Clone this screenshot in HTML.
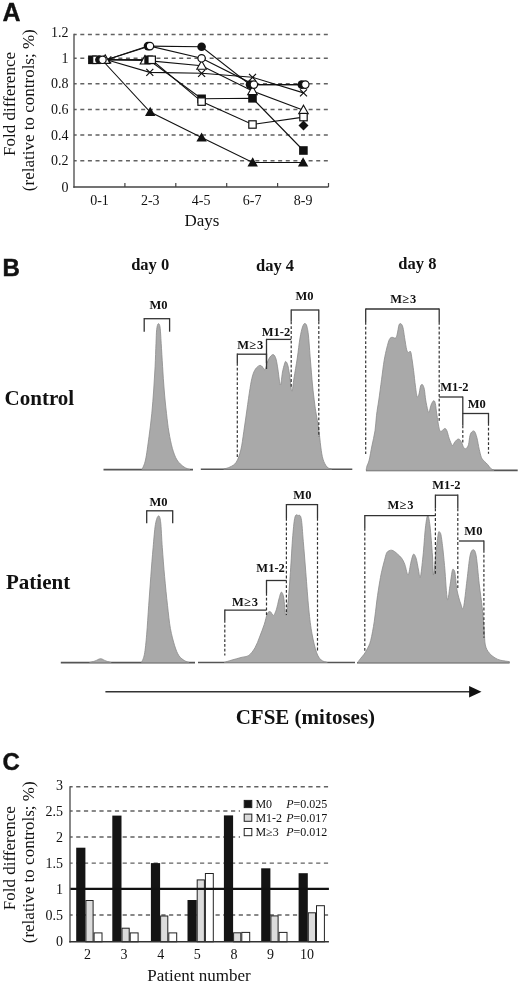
<!DOCTYPE html>
<html><head><meta charset="utf-8"><style>
html,body{margin:0;padding:0;background:#fff;}
body{width:520px;height:985px;overflow:hidden;}
svg{display:block;will-change:transform;}
</style></head><body>
<svg width="520" height="985" viewBox="0 0 520 985">
<rect width="520" height="985" fill="#fff"/>
<text x="2.5" y="21" font-family='"Liberation Sans", sans-serif' font-size="25" font-weight="bold" text-anchor="start" fill="#111" stroke="#111" stroke-width="0.3">A</text>
<text x="2.4" y="276.4" font-family='"Liberation Sans", sans-serif' font-size="24" font-weight="bold" text-anchor="start" fill="#111" stroke="#111" stroke-width="0.5">B</text>
<text x="2.4" y="770" font-family='"Liberation Sans", sans-serif' font-size="24" font-weight="bold" text-anchor="start" fill="#111" stroke="#111" stroke-width="0.4">C</text>
<line x1="74" y1="34.4" x2="328.5" y2="34.4" stroke="#626262" stroke-width="1.45" stroke-dasharray="4,3.61" stroke-dashoffset="1.31"/>
<line x1="74" y1="58.2" x2="328.5" y2="58.2" stroke="#626262" stroke-width="1.45" stroke-dasharray="4,3.61" stroke-dashoffset="1.31"/>
<line x1="74" y1="83.8" x2="328.5" y2="83.8" stroke="#626262" stroke-width="1.45" stroke-dasharray="4,3.61" stroke-dashoffset="1.31"/>
<line x1="74" y1="109.4" x2="328.5" y2="109.4" stroke="#626262" stroke-width="1.45" stroke-dasharray="4,3.61" stroke-dashoffset="1.31"/>
<line x1="74" y1="135.0" x2="328.5" y2="135.0" stroke="#626262" stroke-width="1.45" stroke-dasharray="4,3.61" stroke-dashoffset="1.31"/>
<line x1="74" y1="160.7" x2="328.5" y2="160.7" stroke="#626262" stroke-width="1.45" stroke-dasharray="4,3.61" stroke-dashoffset="1.31"/>
<line x1="74" y1="33.8" x2="74" y2="187.7" stroke="#555" stroke-width="1.4"/>
<line x1="73.3" y1="187.0" x2="328.5" y2="187.0" stroke="#444" stroke-width="1.4"/>
<line x1="124.9" y1="187.0" x2="124.9" y2="183.0" stroke="#444" stroke-width="1.2"/>
<line x1="175.8" y1="187.0" x2="175.8" y2="183.0" stroke="#444" stroke-width="1.2"/>
<line x1="226.7" y1="187.0" x2="226.7" y2="183.0" stroke="#444" stroke-width="1.2"/>
<line x1="277.6" y1="187.0" x2="277.6" y2="183.0" stroke="#444" stroke-width="1.2"/>
<line x1="328.5" y1="187.0" x2="328.5" y2="183.0" stroke="#444" stroke-width="1.2"/>
<text x="68.5" y="36.7" font-family='"Liberation Serif", serif' font-size="14" font-weight="normal" text-anchor="end" fill="#111" >1.2</text>
<text x="68.5" y="62.8" font-family='"Liberation Serif", serif' font-size="14" font-weight="normal" text-anchor="end" fill="#111" >1</text>
<text x="68.5" y="88.4" font-family='"Liberation Serif", serif' font-size="14" font-weight="normal" text-anchor="end" fill="#111" >0.8</text>
<text x="68.5" y="114.0" font-family='"Liberation Serif", serif' font-size="14" font-weight="normal" text-anchor="end" fill="#111" >0.6</text>
<text x="68.5" y="139.6" font-family='"Liberation Serif", serif' font-size="14" font-weight="normal" text-anchor="end" fill="#111" >0.4</text>
<text x="68.5" y="165.3" font-family='"Liberation Serif", serif' font-size="14" font-weight="normal" text-anchor="end" fill="#111" >0.2</text>
<text x="68.5" y="191.6" font-family='"Liberation Serif", serif' font-size="14" font-weight="normal" text-anchor="end" fill="#111" >0</text>
<text x="99.5" y="205" font-family='"Liberation Serif", serif' font-size="14" font-weight="normal" text-anchor="middle" fill="#111" >0-1</text>
<text x="150.3" y="205" font-family='"Liberation Serif", serif' font-size="14" font-weight="normal" text-anchor="middle" fill="#111" >2-3</text>
<text x="201.2" y="205" font-family='"Liberation Serif", serif' font-size="14" font-weight="normal" text-anchor="middle" fill="#111" >4-5</text>
<text x="252.2" y="205" font-family='"Liberation Serif", serif' font-size="14" font-weight="normal" text-anchor="middle" fill="#111" >6-7</text>
<text x="303.1" y="205" font-family='"Liberation Serif", serif' font-size="14" font-weight="normal" text-anchor="middle" fill="#111" >8-9</text>
<text x="202" y="226.3" font-family='"Liberation Serif", serif' font-size="17" font-weight="normal" text-anchor="middle" fill="#111" >Days</text>
<text transform="translate(15,104) rotate(-90)" font-family='"Liberation Serif", serif' font-size="17" text-anchor="middle" fill="#111">Fold difference</text>
<text transform="translate(34,110.2) rotate(-90)" font-family='"Liberation Serif", serif' font-size="17" text-anchor="middle" fill="#111">(relative to controls; %)</text>
<path d="M106.5,59.8 L148.0,46.1 L201.6,46.8 L250.0,84.6 L301.8,84.6" fill="none" stroke="#111" stroke-width="1.1"/>
<path d="M106.5,59.8 L150.0,46.1 L201.6,58.3 L253.9,84.6 L305.3,84.6" fill="none" stroke="#111" stroke-width="1.1"/>
<path d="M106.5,59.8 L145.0,60.4 L201.6,65.7 L252.5,91.1 L303.5,110.2" fill="none" stroke="#111" stroke-width="1.1"/>
<path d="M106.5,59.8 L149.8,72.4 L201.6,73.3 L252.5,77.3 L303.5,92.9" fill="none" stroke="#111" stroke-width="1.1"/>
<path d="M106.5,59.8 L148.6,59.8 L201.6,98.8 L252.5,98.3 L303.4,150.5" fill="none" stroke="#111" stroke-width="1.1"/>
<path d="M106.5,59.8 L151.7,59.8 L201.6,101.6 L252.5,124.5 L303.5,117.1" fill="none" stroke="#111" stroke-width="1.1"/>
<path d="M103.0,61.0 L150.2,112.0 L201.6,137.6 L252.7,162.5 L303.1,162.5" fill="none" stroke="#111" stroke-width="1.1"/>
<path d="M104,54.8 L109.2,64.0 L98.8,64.0 Z" fill="#111"/>
<path d="M150.2,106.8 L155.39999999999998,116 L145.0,116 Z" fill="#111"/>
<path d="M201.6,132.4 L206.79999999999998,141.6 L196.4,141.6 Z" fill="#111"/>
<path d="M252.7,157.3 L257.9,166.5 L247.5,166.5 Z" fill="#111"/>
<path d="M303.1,157.3 L308.3,166.5 L297.90000000000003,166.5 Z" fill="#111"/>
<path d="M104.3,56.3 L111.3,63.3 M111.3,56.3 L104.3,63.3" stroke="#111" stroke-width="1.2"/>
<path d="M146.3,68.9 L153.3,75.9 M153.3,68.9 L146.3,75.9" stroke="#111" stroke-width="1.2"/>
<path d="M198.1,69.8 L205.1,76.8 M205.1,69.8 L198.1,76.8" stroke="#111" stroke-width="1.2"/>
<path d="M249.0,73.8 L256.0,80.8 M256.0,73.8 L249.0,80.8" stroke="#111" stroke-width="1.2"/>
<path d="M300.0,89.4 L307.0,96.4 M307.0,89.4 L300.0,96.4" stroke="#111" stroke-width="1.2"/>
<path d="M105.2,54.8 L110.0,63.4 L100.4,63.4 Z" fill="#fff" stroke="#111" stroke-width="1.1"/>
<path d="M145,55.4 L149.8,64.0 L140.2,64.0 Z" fill="#fff" stroke="#111" stroke-width="1.1"/>
<path d="M201.6,60.7 L206.4,69.3 L196.79999999999998,69.3 Z" fill="#fff" stroke="#111" stroke-width="1.1"/>
<path d="M252.5,86.1 L257.3,94.69999999999999 L247.7,94.69999999999999 Z" fill="#fff" stroke="#111" stroke-width="1.1"/>
<path d="M303.5,105.2 L308.3,113.8 L298.7,113.8 Z" fill="#fff" stroke="#111" stroke-width="1.1"/>
<rect x="88.10000000000001" y="55.5" width="8.6" height="8.6" fill="#111"/>
<rect x="144.29999999999998" y="55.5" width="8.6" height="8.6" fill="#111"/>
<rect x="197.29999999999998" y="94.5" width="8.6" height="8.6" fill="#111"/>
<rect x="248.2" y="94.0" width="8.6" height="8.6" fill="#111"/>
<rect x="299.09999999999997" y="146.2" width="8.6" height="8.6" fill="#111"/>
<rect x="92.7" y="56.1" width="7.3999999999999995" height="7.3999999999999995" fill="#fff" stroke="#111" stroke-width="1.2"/>
<rect x="147.99999999999997" y="56.1" width="7.3999999999999995" height="7.3999999999999995" fill="#fff" stroke="#111" stroke-width="1.2"/>
<rect x="197.89999999999998" y="97.89999999999999" width="7.3999999999999995" height="7.3999999999999995" fill="#fff" stroke="#111" stroke-width="1.2"/>
<rect x="248.79999999999998" y="120.8" width="7.3999999999999995" height="7.3999999999999995" fill="#fff" stroke="#111" stroke-width="1.2"/>
<rect x="299.8" y="113.39999999999999" width="7.3999999999999995" height="7.3999999999999995" fill="#fff" stroke="#111" stroke-width="1.2"/>
<circle cx="99.4" cy="59.8" r="4.3" fill="#111"/>
<circle cx="148" cy="46.1" r="4.3" fill="#111"/>
<circle cx="201.6" cy="46.8" r="4.3" fill="#111"/>
<circle cx="250" cy="84.6" r="4.3" fill="#111"/>
<circle cx="301.8" cy="84.6" r="4.3" fill="#111"/>
<circle cx="102.5" cy="59.8" r="3.6999999999999997" fill="#fff" stroke="#111" stroke-width="1.2"/>
<circle cx="150" cy="46.1" r="3.6999999999999997" fill="#fff" stroke="#111" stroke-width="1.2"/>
<circle cx="201.6" cy="58.3" r="3.6999999999999997" fill="#fff" stroke="#111" stroke-width="1.2"/>
<circle cx="253.9" cy="84.6" r="3.6999999999999997" fill="#fff" stroke="#111" stroke-width="1.2"/>
<circle cx="305.3" cy="84.6" r="3.6999999999999997" fill="#fff" stroke="#111" stroke-width="1.2"/>
<path d="M303.5,120.4 L308.5,125.4 L303.5,130.4 L298.5,125.4 Z" fill="#111"/>
<text x="150.2" y="269.7" font-family='"Liberation Serif", serif' font-size="16.5" font-weight="bold" text-anchor="middle" fill="#111" >day 0</text>
<text x="275" y="270.5" font-family='"Liberation Serif", serif' font-size="16.5" font-weight="bold" text-anchor="middle" fill="#111" >day 4</text>
<text x="417.4" y="268.8" font-family='"Liberation Serif", serif' font-size="16.5" font-weight="bold" text-anchor="middle" fill="#111" >day 8</text>
<text x="4.6" y="405.4" font-family='"Liberation Serif", serif' font-size="21" font-weight="bold" text-anchor="start" fill="#111" >Control</text>
<text x="6" y="588.5" font-family='"Liberation Serif", serif' font-size="21" font-weight="bold" text-anchor="start" fill="#111" >Patient</text>
<line x1="103.5" y1="469.6" x2="193" y2="469.6" stroke="#555" stroke-width="1.6"/>
<path d="M142.0,469.5 C142.6,467.9 144.3,465.4 145.5,460.0 C146.7,454.6 147.9,444.6 149.0,436.8 C150.1,429.0 151.0,421.2 151.8,413.4 C152.6,405.6 153.1,397.8 153.7,390.0 C154.2,382.2 154.7,374.5 155.1,366.7 C155.5,358.9 155.7,349.6 156.0,343.4 C156.3,337.2 156.3,332.7 156.7,329.4 C157.1,326.1 157.6,324.2 158.2,323.8 C158.8,323.4 159.5,323.7 160.0,327.0 C160.5,330.3 160.8,336.8 161.2,343.4 C161.6,350.0 162.1,358.9 162.6,366.7 C163.1,374.5 163.5,382.2 164.2,390.0 C164.8,397.8 165.7,406.4 166.5,413.4 C167.3,420.4 167.9,426.1 168.9,432.0 C169.9,437.9 171.1,443.8 172.4,448.5 C173.8,453.2 175.1,456.9 177.0,460.0 C178.9,463.1 181.8,465.4 184.0,467.0 C186.2,468.6 189.0,469.1 190.0,469.5 L190.0,469.6 L142.0,469.6 Z" fill="#a9a9a9" stroke="#8a8a8a" stroke-width="0.8"/>
<line x1="144.2" y1="318.7" x2="169.6" y2="318.7" stroke="#333" stroke-width="1.3"/>
<line x1="144.2" y1="318.09999999999997" x2="144.2" y2="331.7" stroke="#333" stroke-width="1.3"/>
<line x1="169.6" y1="318.09999999999997" x2="169.6" y2="331.7" stroke="#333" stroke-width="1.3"/>
<text x="158.5" y="308.5" font-family='"Liberation Serif", serif' font-size="12.5" font-weight="bold" text-anchor="middle" fill="#111" >M0</text>
<line x1="200.8" y1="469.2" x2="352.3" y2="469.2" stroke="#555" stroke-width="1.6"/>
<path d="M223.8,469.0 C224.8,468.7 227.9,468.1 230.0,467.0 C232.1,465.9 234.4,465.1 236.2,462.3 C238.0,459.5 239.5,455.1 240.8,450.0 C242.1,444.9 242.8,438.2 243.8,431.5 C244.8,424.8 245.9,417.2 246.9,410.0 C247.9,402.8 249.1,394.2 250.0,388.5 C250.9,382.8 251.6,379.2 252.5,376.0 C253.4,372.8 254.3,370.8 255.5,369.0 C256.7,367.2 258.6,365.6 259.8,365.4 C261.1,365.1 262.1,366.8 263.0,367.5 C263.9,368.2 264.4,370.5 265.2,369.6 C265.9,368.7 266.7,364.1 267.5,362.0 C268.3,359.9 269.0,358.2 270.0,357.0 C271.0,355.8 272.3,354.3 273.3,354.6 C274.3,354.9 275.2,356.4 276.0,359.0 C276.8,361.6 277.3,365.7 278.0,370.0 C278.7,374.3 279.6,384.7 280.4,385.0 C281.1,385.3 281.8,375.5 282.5,372.0 C283.2,368.5 283.9,365.8 284.5,364.0 C285.1,362.2 285.2,361.2 285.8,361.5 C286.4,361.8 287.3,363.2 288.0,366.0 C288.7,368.8 289.4,373.8 290.0,378.0 C290.6,382.2 291.2,391.2 291.9,391.2 C292.6,391.2 293.1,383.5 294.0,378.0 C294.9,372.5 296.3,364.7 297.3,358.0 C298.3,351.3 299.1,343.2 300.0,338.0 C300.9,332.8 301.7,329.4 302.5,327.0 C303.3,324.6 303.9,323.7 304.6,323.5 C305.3,323.3 306.2,323.9 306.8,326.0 C307.4,328.1 307.9,330.3 308.5,336.0 C309.1,341.7 309.7,351.8 310.4,360.0 C311.1,368.2 311.8,377.8 312.5,385.0 C313.2,392.2 314.0,398.2 314.6,403.0 C315.2,407.8 315.5,409.8 316.2,414.0 C316.9,418.2 317.8,422.5 318.6,428.0 C319.4,433.5 320.1,441.8 320.8,447.0 C321.5,452.2 322.0,455.9 323.0,459.2 C324.0,462.5 325.6,465.4 327.0,467.0 C328.4,468.6 330.8,468.7 331.5,469.0 L331.5,469.2 L223.8,469.2 Z" fill="#a9a9a9" stroke="#8a8a8a" stroke-width="0.8"/>
<line x1="291.2" y1="310" x2="318.8" y2="310" stroke="#333" stroke-width="1.3"/>
<line x1="291.2" y1="309.4" x2="291.2" y2="321.5" stroke="#333" stroke-width="1.3"/>
<line x1="291.2" y1="321.5" x2="291.2" y2="388.5" stroke="#333" stroke-width="1.2" stroke-dasharray="2.8,2"/>
<line x1="318.8" y1="309.4" x2="318.8" y2="321.5" stroke="#333" stroke-width="1.3"/>
<line x1="318.8" y1="321.5" x2="318.8" y2="437" stroke="#333" stroke-width="1.2" stroke-dasharray="2.8,2"/>
<line x1="266.5" y1="339.4" x2="291.2" y2="339.4" stroke="#333" stroke-width="1.3"/>
<line x1="266.5" y1="338.79999999999995" x2="266.5" y2="369" stroke="#333" stroke-width="1.3"/>
<line x1="237.3" y1="354.2" x2="266.5" y2="354.2" stroke="#333" stroke-width="1.3"/>
<line x1="237.3" y1="353.59999999999997" x2="237.3" y2="363" stroke="#333" stroke-width="1.3"/>
<line x1="237.3" y1="363" x2="237.3" y2="457" stroke="#333" stroke-width="1.2" stroke-dasharray="2.8,2"/>
<line x1="266.5" y1="353.59999999999997" x2="266.5" y2="363" stroke="#333" stroke-width="1.3"/>
<text x="304.6" y="300.4" font-family='"Liberation Serif", serif' font-size="12.5" font-weight="bold" text-anchor="middle" fill="#111" >M0</text>
<text x="276" y="336" font-family='"Liberation Serif", serif' font-size="12.5" font-weight="bold" text-anchor="middle" fill="#111" >M1-2</text>
<text x="250.2" y="348.5" font-family='"Liberation Serif", serif' font-size="12.5" font-weight="bold" text-anchor="middle" fill="#111" textLength="26" lengthAdjust="spacing">M≥3</text>
<line x1="366" y1="470.4" x2="517.7" y2="470.4" stroke="#555" stroke-width="1.6"/>
<path d="M366.2,470.0 C366.3,469.3 366.5,467.7 367.0,466.0 C367.5,464.3 368.4,463.3 369.2,460.0 C370.0,456.7 370.9,450.9 371.9,446.0 C372.9,441.1 374.2,435.9 375.0,430.8 C375.8,425.7 375.9,420.5 376.5,415.4 C377.1,410.3 377.9,406.0 378.8,400.0 C379.7,394.0 380.7,385.8 381.6,379.2 C382.5,372.6 383.3,365.4 384.2,360.2 C385.1,355.0 385.9,351.5 386.8,348.0 C387.7,344.5 388.5,341.2 389.4,339.4 C390.3,337.6 391.0,337.5 392.0,337.3 C393.0,337.1 394.6,338.5 395.5,338.0 C396.4,337.5 396.6,336.4 397.2,334.2 C397.8,332.0 398.4,326.7 399.0,325.0 C399.6,323.3 400.4,323.4 401.0,323.8 C401.6,324.2 402.3,325.0 402.9,327.3 C403.5,329.6 404.0,333.9 404.6,337.7 C405.2,341.4 406.1,347.4 406.7,349.8 C407.3,352.2 407.8,352.1 408.4,352.4 C409.0,352.7 409.9,350.5 410.5,351.5 C411.1,352.5 411.4,355.2 411.9,358.4 C412.4,361.6 413.0,366.0 413.6,370.6 C414.2,375.2 414.8,381.7 415.4,386.0 C416.0,390.3 416.5,395.0 417.1,396.5 C417.7,398.0 418.2,396.6 418.8,394.8 C419.4,393.1 420.0,387.7 420.6,386.0 C421.2,384.3 422.0,384.1 422.6,384.7 C423.2,385.3 423.9,387.1 424.4,389.6 C424.9,392.2 425.1,396.6 425.7,400.0 C426.3,403.4 427.2,408.3 427.8,410.3 C428.4,412.3 428.7,412.9 429.2,412.0 C429.7,411.1 430.3,407.1 431.0,405.2 C431.7,403.3 432.8,401.1 433.5,400.8 C434.2,400.5 434.7,400.9 435.3,403.4 C435.9,405.8 436.2,410.9 437.0,415.5 C437.8,420.1 438.7,428.6 440.0,430.8 C441.3,433.0 443.5,428.5 444.6,428.5 C445.8,428.5 446.1,429.1 446.9,430.8 C447.7,432.5 448.3,436.1 449.2,438.5 C450.1,440.9 451.4,444.8 452.3,445.4 C453.2,446.0 453.8,443.2 454.6,442.3 C455.4,441.4 456.1,440.2 456.9,439.7 C457.7,439.2 458.4,438.8 459.2,439.2 C460.0,439.6 460.7,440.9 461.5,442.3 C462.3,443.7 463.0,446.7 463.8,447.7 C464.6,448.7 465.4,449.0 466.2,448.5 C467.0,448.0 467.9,446.8 468.5,444.6 C469.1,442.4 469.4,437.6 470.0,435.4 C470.6,433.2 471.5,432.1 472.3,431.5 C473.1,430.9 473.8,430.5 474.6,431.5 C475.4,432.5 476.1,434.8 476.9,437.7 C477.7,440.6 478.4,445.9 479.2,449.2 C480.0,452.5 480.6,455.6 481.5,457.7 C482.4,459.8 483.6,460.4 484.6,461.5 C485.6,462.6 486.7,463.4 487.7,464.6 C488.7,465.8 489.8,467.6 490.8,468.5 C491.9,469.4 493.5,469.9 494.0,470.2 L494.0,470.4 L366.2,470.4 Z" fill="#a9a9a9" stroke="#8a8a8a" stroke-width="0.8"/>
<line x1="365.7" y1="309" x2="439.2" y2="309" stroke="#333" stroke-width="1.3"/>
<line x1="365.7" y1="308.4" x2="365.7" y2="322" stroke="#333" stroke-width="1.3"/>
<line x1="365.7" y1="322" x2="365.7" y2="454" stroke="#333" stroke-width="1.2" stroke-dasharray="2.8,2"/>
<line x1="439.2" y1="308.4" x2="439.2" y2="322" stroke="#333" stroke-width="1.3"/>
<line x1="439.2" y1="322" x2="439.2" y2="422" stroke="#333" stroke-width="1.2" stroke-dasharray="2.8,2"/>
<line x1="439.2" y1="397" x2="462.8" y2="397" stroke="#333" stroke-width="1.3"/>
<line x1="462.8" y1="396.4" x2="462.8" y2="413.5" stroke="#333" stroke-width="1.3"/>
<line x1="462.8" y1="413.5" x2="488.5" y2="413.5" stroke="#333" stroke-width="1.3"/>
<line x1="462.8" y1="412.9" x2="462.8" y2="425.4" stroke="#333" stroke-width="1.3"/>
<line x1="462.8" y1="425.4" x2="462.8" y2="444.6" stroke="#333" stroke-width="1.2" stroke-dasharray="2.8,2"/>
<line x1="488.5" y1="412.9" x2="488.5" y2="423" stroke="#333" stroke-width="1.3"/>
<line x1="488.5" y1="423" x2="488.5" y2="453.8" stroke="#333" stroke-width="1.2" stroke-dasharray="2.8,2"/>
<text x="403.2" y="302.9" font-family='"Liberation Serif", serif' font-size="12.5" font-weight="bold" text-anchor="middle" fill="#111" textLength="26" lengthAdjust="spacing">M≥3</text>
<text x="454.4" y="391.2" font-family='"Liberation Serif", serif' font-size="12.5" font-weight="bold" text-anchor="middle" fill="#111" >M1-2</text>
<text x="476.8" y="408.3" font-family='"Liberation Serif", serif' font-size="12.5" font-weight="bold" text-anchor="middle" fill="#111" >M0</text>
<line x1="60.8" y1="662.6" x2="195" y2="662.6" stroke="#555" stroke-width="1.6"/>
<path d="M89.6,662.5 C90.5,662.2 93.2,661.6 95.0,661.0 C96.8,660.4 98.8,658.7 100.6,658.7 C102.4,658.7 104.2,660.4 106.0,661.0 C107.8,661.6 110.3,662.2 111.2,662.5 L111.2,662.5 L89.6,662.5 Z" fill="#a9a9a9" stroke="#8a8a8a" stroke-width="0.8"/>
<path d="M141.5,662.4 C142.0,661.1 143.5,659.1 144.4,654.4 C145.3,649.7 146.0,642.4 146.7,634.2 C147.4,626.0 148.0,615.0 148.7,605.4 C149.4,595.8 150.1,586.1 150.8,576.5 C151.5,566.9 152.3,556.4 153.1,547.7 C153.9,539.1 154.5,529.9 155.4,524.6 C156.3,519.3 157.4,516.5 158.3,516.0 C159.2,515.5 159.9,516.4 160.6,521.7 C161.3,527.0 161.6,538.6 162.3,547.7 C163.0,556.8 163.7,566.9 164.6,576.5 C165.5,586.1 166.5,596.7 167.5,605.4 C168.5,614.1 169.2,621.8 170.4,628.5 C171.6,635.2 173.3,641.2 174.7,645.8 C176.1,650.3 177.3,653.3 179.0,655.8 C180.7,658.3 183.1,659.7 184.8,660.8 C186.5,661.9 188.4,662.1 189.1,662.4 L189.1,662.5 L141.5,662.5 Z" fill="#a9a9a9" stroke="#8a8a8a" stroke-width="0.8"/>
<line x1="146.7" y1="510.8" x2="172.7" y2="510.8" stroke="#333" stroke-width="1.3"/>
<line x1="146.7" y1="510.2" x2="146.7" y2="523.2" stroke="#333" stroke-width="1.3"/>
<line x1="172.7" y1="510.2" x2="172.7" y2="523.2" stroke="#333" stroke-width="1.3"/>
<text x="158.5" y="505.9" font-family='"Liberation Serif", serif' font-size="12.5" font-weight="bold" text-anchor="middle" fill="#111" >M0</text>
<line x1="198" y1="662.5" x2="355" y2="662.5" stroke="#555" stroke-width="1.6"/>
<path d="M224.2,662.4 C225.5,662.0 229.2,660.8 232.0,660.0 C234.8,659.2 238.2,658.3 241.0,657.5 C243.8,656.7 246.5,657.0 248.8,655.4 C251.1,653.8 253.2,650.8 255.0,647.7 C256.8,644.6 258.1,640.9 259.6,637.0 C261.1,633.1 262.9,628.5 264.2,624.6 C265.5,620.7 266.3,615.9 267.3,613.8 C268.3,611.6 269.4,611.4 270.4,611.7 C271.4,612.0 272.5,615.8 273.5,615.4 C274.5,615.0 275.6,611.8 276.5,609.2 C277.4,606.6 277.9,602.8 278.7,600.0 C279.5,597.2 280.4,592.8 281.2,592.3 C282.0,591.8 282.8,593.1 283.6,597.0 C284.4,600.9 285.1,614.4 285.8,615.4 C286.5,616.4 287.1,610.2 287.9,603.0 C288.7,595.8 289.6,583.6 290.4,572.3 C291.2,561.0 292.0,544.6 292.8,535.4 C293.6,526.2 294.1,520.3 295.0,517.0 C295.9,513.7 297.0,515.1 298.0,515.4 C299.0,515.6 300.3,514.1 301.2,518.5 C302.1,522.9 302.5,532.5 303.3,541.5 C304.1,550.5 304.9,561.0 305.8,572.3 C306.7,583.6 307.8,599.0 308.8,609.2 C309.8,619.5 310.7,626.6 312.0,633.8 C313.3,641.0 315.0,647.9 316.5,652.3 C318.0,656.7 319.4,658.3 321.2,660.0 C323.0,661.7 326.3,662.0 327.3,662.4 L327.3,662.5 L224.2,662.5 Z" fill="#a9a9a9" stroke="#8a8a8a" stroke-width="0.8"/>
<line x1="286.4" y1="504.6" x2="317.5" y2="504.6" stroke="#333" stroke-width="1.3"/>
<line x1="286.4" y1="504.0" x2="286.4" y2="518" stroke="#333" stroke-width="1.3"/>
<line x1="286.4" y1="518" x2="286.4" y2="615" stroke="#333" stroke-width="1.2" stroke-dasharray="2.8,2"/>
<line x1="317.5" y1="504.0" x2="317.5" y2="518" stroke="#333" stroke-width="1.3"/>
<line x1="317.5" y1="518" x2="317.5" y2="650.8" stroke="#333" stroke-width="1.2" stroke-dasharray="2.8,2"/>
<line x1="266.5" y1="580.5" x2="286.6" y2="580.5" stroke="#333" stroke-width="1.3"/>
<line x1="266.5" y1="579.9" x2="266.5" y2="593" stroke="#333" stroke-width="1.3"/>
<line x1="266.5" y1="593" x2="266.5" y2="616" stroke="#333" stroke-width="1.2" stroke-dasharray="2.8,2"/>
<line x1="224.8" y1="610.2" x2="266.4" y2="610.2" stroke="#333" stroke-width="1.3"/>
<line x1="224.8" y1="609.6" x2="224.8" y2="620" stroke="#333" stroke-width="1.3"/>
<line x1="224.8" y1="620" x2="224.8" y2="655.4" stroke="#333" stroke-width="1.2" stroke-dasharray="2.8,2"/>
<text x="302.4" y="499" font-family='"Liberation Serif", serif' font-size="12.5" font-weight="bold" text-anchor="middle" fill="#111" >M0</text>
<text x="270.6" y="571.7" font-family='"Liberation Serif", serif' font-size="12.5" font-weight="bold" text-anchor="middle" fill="#111" >M1-2</text>
<text x="245" y="606" font-family='"Liberation Serif", serif' font-size="12.5" font-weight="bold" text-anchor="middle" fill="#111" textLength="26" lengthAdjust="spacing">M≥3</text>
<line x1="357" y1="662.7" x2="509.6" y2="662.7" stroke="#555" stroke-width="1.6"/>
<path d="M357.7,662.3 C358.2,661.7 359.5,659.8 360.5,658.5 C361.5,657.2 362.7,656.2 363.8,654.6 C364.9,653.0 366.2,651.1 367.3,648.8 C368.4,646.4 369.5,645.1 370.7,640.5 C371.9,635.9 373.3,627.9 374.3,621.3 C375.3,614.7 375.9,607.8 376.8,601.0 C377.7,594.2 379.0,585.8 379.9,580.7 C380.8,575.6 381.1,573.9 381.9,570.5 C382.7,567.1 383.7,563.2 384.5,560.3 C385.3,557.4 385.8,554.8 386.5,553.2 C387.2,551.6 388.1,551.3 389.0,550.8 C389.9,550.3 390.7,550.1 391.6,550.2 C392.5,550.3 393.5,550.8 394.5,551.5 C395.5,552.2 396.5,553.1 397.7,554.2 C398.9,555.3 400.5,556.6 401.7,558.3 C402.9,560.0 403.7,561.6 404.8,564.4 C405.9,567.2 407.1,575.4 408.1,575.0 C409.1,574.6 410.1,565.5 411.0,562.0 C411.9,558.5 412.6,555.0 413.4,554.3 C414.2,553.6 415.1,555.4 416.0,558.0 C416.9,560.6 417.8,566.8 418.5,570.0 C419.2,573.2 419.6,579.7 420.3,577.4 C421.1,575.1 422.1,564.2 423.0,556.0 C423.9,547.8 424.6,534.7 425.4,528.0 C426.2,521.3 426.9,516.0 427.7,515.7 C428.5,515.4 429.2,519.3 430.0,526.0 C430.8,532.7 431.9,547.8 432.5,556.0 C433.1,564.2 432.9,576.0 433.5,575.0 C434.1,574.0 435.4,556.8 436.2,550.0 C437.0,543.2 437.7,537.0 438.2,534.0 C438.7,531.0 438.8,531.7 439.3,531.9 C439.8,532.1 440.4,532.0 441.0,535.0 C441.6,538.0 442.4,544.4 443.0,550.0 C443.6,555.6 444.1,560.3 444.8,568.5 C445.5,576.7 446.5,596.5 447.4,599.3 C448.3,602.1 449.2,589.9 450.0,585.4 C450.8,580.9 451.5,574.7 452.0,572.0 C452.5,569.3 452.6,569.1 453.1,569.3 C453.6,569.5 454.4,569.5 455.0,573.0 C455.6,576.5 456.0,584.8 457.0,590.0 C458.0,595.2 459.7,601.1 460.8,604.0 C461.9,606.9 462.5,611.4 463.5,607.4 C464.5,603.4 465.9,588.6 467.0,580.0 C468.1,571.4 469.0,561.0 470.0,556.0 C471.0,551.0 472.2,549.7 473.2,549.7 C474.2,549.7 475.2,550.3 476.2,556.0 C477.2,561.7 478.2,575.0 479.2,583.8 C480.2,592.5 481.5,600.8 482.3,608.5 C483.1,616.2 483.7,623.9 484.2,630.0 C484.7,636.1 484.5,641.2 485.3,645.0 C486.1,648.8 487.6,650.9 489.2,653.0 C490.8,655.1 493.1,656.7 495.0,657.9 C496.9,659.1 498.4,659.7 500.8,660.3 C503.2,660.9 508.0,661.4 509.4,661.6 L509.4,662.5 L357.7,662.5 Z" fill="#a9a9a9" stroke="#8a8a8a" stroke-width="0.8"/>
<line x1="364.8" y1="515.7" x2="435.4" y2="515.7" stroke="#333" stroke-width="1.3"/>
<line x1="364.8" y1="515.1" x2="364.8" y2="528" stroke="#333" stroke-width="1.3"/>
<line x1="364.8" y1="528" x2="364.8" y2="651.5" stroke="#333" stroke-width="1.2" stroke-dasharray="2.8,2"/>
<line x1="435.4" y1="495.2" x2="457.8" y2="495.2" stroke="#333" stroke-width="1.3"/>
<line x1="435.4" y1="494.59999999999997" x2="435.4" y2="508.5" stroke="#333" stroke-width="1.3"/>
<line x1="435.4" y1="508.5" x2="435.4" y2="574.6" stroke="#333" stroke-width="1.2" stroke-dasharray="2.8,2"/>
<line x1="457.8" y1="494.59999999999997" x2="457.8" y2="508.5" stroke="#333" stroke-width="1.3"/>
<line x1="457.8" y1="508.5" x2="457.8" y2="590" stroke="#333" stroke-width="1.2" stroke-dasharray="2.8,2"/>
<line x1="458.9" y1="541" x2="483.9" y2="541" stroke="#333" stroke-width="1.3"/>
<line x1="483.9" y1="540.4" x2="483.9" y2="550" stroke="#333" stroke-width="1.3"/>
<line x1="483.9" y1="550" x2="483.9" y2="637.7" stroke="#333" stroke-width="1.2" stroke-dasharray="2.8,2"/>
<text x="400.5" y="509" font-family='"Liberation Serif", serif' font-size="12.5" font-weight="bold" text-anchor="middle" fill="#111" textLength="26" lengthAdjust="spacing">M≥3</text>
<text x="446.4" y="489" font-family='"Liberation Serif", serif' font-size="12.5" font-weight="bold" text-anchor="middle" fill="#111" >M1-2</text>
<text x="473.4" y="535.2" font-family='"Liberation Serif", serif' font-size="12.5" font-weight="bold" text-anchor="middle" fill="#111" >M0</text>
<line x1="105.4" y1="691.8" x2="471" y2="691.8" stroke="#333" stroke-width="1.5"/>
<path d="M469.1,686 L481.5,691.8 L469.1,697.6 Z" fill="#111"/>
<text x="305.4" y="724" font-family='"Liberation Serif", serif' font-size="21" font-weight="bold" text-anchor="middle" fill="#111" >CFSE (mitoses)</text>
<line x1="70" y1="915.0" x2="328.9" y2="915.0" stroke="#626262" stroke-width="1.45" stroke-dasharray="4.2,3.54" stroke-dashoffset="1.54"/>
<line x1="70" y1="863.1" x2="328.9" y2="863.1" stroke="#626262" stroke-width="1.45" stroke-dasharray="4.2,3.54" stroke-dashoffset="1.54"/>
<line x1="70" y1="837.0" x2="328.9" y2="837.0" stroke="#626262" stroke-width="1.45" stroke-dasharray="4.2,3.54" stroke-dashoffset="1.54"/>
<line x1="70" y1="811.0" x2="328.9" y2="811.0" stroke="#626262" stroke-width="1.45" stroke-dasharray="4.2,3.54" stroke-dashoffset="1.54"/>
<line x1="70" y1="786.8" x2="328.9" y2="786.8" stroke="#626262" stroke-width="1.45" stroke-dasharray="4.2,3.54" stroke-dashoffset="1.54"/>
<rect x="76.2" y="847.7" width="9.2" height="94.1" fill="#141414"/>
<rect x="85.9" y="900.5" width="7.2" height="41.3" fill="#dcdcdc" stroke="#222" stroke-width="1"/>
<rect x="94.1" y="932.9" width="7.9" height="8.9" fill="#ffffff" stroke="#222" stroke-width="1"/>
<rect x="112.3" y="815.6" width="9.2" height="126.2" fill="#141414"/>
<rect x="122.0" y="928.2" width="7.2" height="13.6" fill="#dcdcdc" stroke="#222" stroke-width="1"/>
<rect x="130.2" y="932.9" width="7.9" height="8.9" fill="#ffffff" stroke="#222" stroke-width="1"/>
<rect x="150.9" y="863.1" width="9.2" height="78.7" fill="#141414"/>
<rect x="160.6" y="916.0" width="7.2" height="25.8" fill="#dcdcdc" stroke="#222" stroke-width="1"/>
<rect x="168.8" y="932.9" width="7.9" height="8.9" fill="#ffffff" stroke="#222" stroke-width="1"/>
<rect x="187.5" y="900.0" width="9.2" height="41.8" fill="#141414"/>
<rect x="197.2" y="879.9" width="7.2" height="61.9" fill="#dcdcdc" stroke="#222" stroke-width="1"/>
<rect x="205.4" y="873.5" width="7.9" height="68.3" fill="#ffffff" stroke="#222" stroke-width="1"/>
<rect x="223.9" y="815.4" width="9.2" height="126.4" fill="#141414"/>
<rect x="233.6" y="932.8" width="7.2" height="9.0" fill="#dcdcdc" stroke="#222" stroke-width="1"/>
<rect x="241.8" y="932.4" width="7.9" height="9.4" fill="#ffffff" stroke="#222" stroke-width="1"/>
<rect x="261.2" y="868.3" width="9.2" height="73.5" fill="#141414"/>
<rect x="270.9" y="915.9" width="7.2" height="25.9" fill="#dcdcdc" stroke="#222" stroke-width="1"/>
<rect x="279.1" y="932.4" width="7.9" height="9.4" fill="#ffffff" stroke="#222" stroke-width="1"/>
<rect x="298.6" y="873.2" width="9.2" height="68.6" fill="#141414"/>
<rect x="308.3" y="912.8" width="7.2" height="29.0" fill="#dcdcdc" stroke="#222" stroke-width="1"/>
<rect x="316.5" y="905.7" width="7.9" height="36.1" fill="#ffffff" stroke="#222" stroke-width="1"/>
<line x1="70" y1="888.9" x2="328.9" y2="888.9" stroke="#111" stroke-width="2.4"/>
<line x1="70" y1="786.3" x2="70" y2="942.5" stroke="#555" stroke-width="1.4"/>
<line x1="69.3" y1="941.8" x2="328.9" y2="941.8" stroke="#333" stroke-width="1.4"/>
<text x="63" y="946.4" font-family='"Liberation Serif", serif' font-size="14" font-weight="normal" text-anchor="end" fill="#111" >0</text>
<text x="63" y="919.6" font-family='"Liberation Serif", serif' font-size="14" font-weight="normal" text-anchor="end" fill="#111" >0.5</text>
<text x="63" y="893.5" font-family='"Liberation Serif", serif' font-size="14" font-weight="normal" text-anchor="end" fill="#111" >1</text>
<text x="63" y="867.7" font-family='"Liberation Serif", serif' font-size="14" font-weight="normal" text-anchor="end" fill="#111" >1.5</text>
<text x="63" y="841.6" font-family='"Liberation Serif", serif' font-size="14" font-weight="normal" text-anchor="end" fill="#111" >2</text>
<text x="63" y="815.6" font-family='"Liberation Serif", serif' font-size="14" font-weight="normal" text-anchor="end" fill="#111" >2.5</text>
<text x="63" y="790.3" font-family='"Liberation Serif", serif' font-size="14" font-weight="normal" text-anchor="end" fill="#111" >3</text>
<text x="87.5" y="958.7" font-family='"Liberation Serif", serif' font-size="14" font-weight="normal" text-anchor="middle" fill="#111" >2</text>
<text x="124.1" y="958.7" font-family='"Liberation Serif", serif' font-size="14" font-weight="normal" text-anchor="middle" fill="#111" >3</text>
<text x="160.7" y="958.7" font-family='"Liberation Serif", serif' font-size="14" font-weight="normal" text-anchor="middle" fill="#111" >4</text>
<text x="197.3" y="958.7" font-family='"Liberation Serif", serif' font-size="14" font-weight="normal" text-anchor="middle" fill="#111" >5</text>
<text x="233.9" y="958.7" font-family='"Liberation Serif", serif' font-size="14" font-weight="normal" text-anchor="middle" fill="#111" >8</text>
<text x="270.5" y="958.7" font-family='"Liberation Serif", serif' font-size="14" font-weight="normal" text-anchor="middle" fill="#111" >9</text>
<text x="307.1" y="958.7" font-family='"Liberation Serif", serif' font-size="14" font-weight="normal" text-anchor="middle" fill="#111" >10</text>
<text x="199" y="980.8" font-family='"Liberation Serif", serif' font-size="17" font-weight="normal" text-anchor="middle" fill="#111" >Patient number</text>
<text transform="translate(15,858.2) rotate(-90)" font-family='"Liberation Serif", serif' font-size="17" text-anchor="middle" fill="#111">Fold difference</text>
<text transform="translate(34,862.3) rotate(-90)" font-family='"Liberation Serif", serif' font-size="17" text-anchor="middle" fill="#111">(relative to controls; %)</text>
<rect x="240" y="796" width="88" height="44" fill="#fff"/>
<rect x="244.2" y="800.4" width="7.6" height="7.2" fill="#141414" stroke="#222" stroke-width="1"/>
<text x="255.4" y="807.9" font-family='"Liberation Serif", serif' font-size="12" font-weight="normal" text-anchor="start" fill="#111" >M0</text>
<text x="286.2" y="807.9" font-family='"Liberation Serif", serif' font-size="12" font-weight="normal" text-anchor="start" fill="#111" ><tspan font-style="italic">P</tspan>=0.025</text>
<rect x="244.2" y="814.1" width="7.6" height="7.2" fill="#dcdcdc" stroke="#222" stroke-width="1"/>
<text x="255.4" y="821.6" font-family='"Liberation Serif", serif' font-size="12" font-weight="normal" text-anchor="start" fill="#111" >M1-2</text>
<text x="286.2" y="821.6" font-family='"Liberation Serif", serif' font-size="12" font-weight="normal" text-anchor="start" fill="#111" ><tspan font-style="italic">P</tspan>=0.017</text>
<rect x="244.2" y="828.5" width="7.6" height="7.2" fill="#ffffff" stroke="#222" stroke-width="1"/>
<text x="255.4" y="836.0" font-family='"Liberation Serif", serif' font-size="12" font-weight="normal" text-anchor="start" fill="#111" >M≥3</text>
<text x="286.2" y="836.0" font-family='"Liberation Serif", serif' font-size="12" font-weight="normal" text-anchor="start" fill="#111" ><tspan font-style="italic">P</tspan>=0.012</text>
</svg>
</body></html>
